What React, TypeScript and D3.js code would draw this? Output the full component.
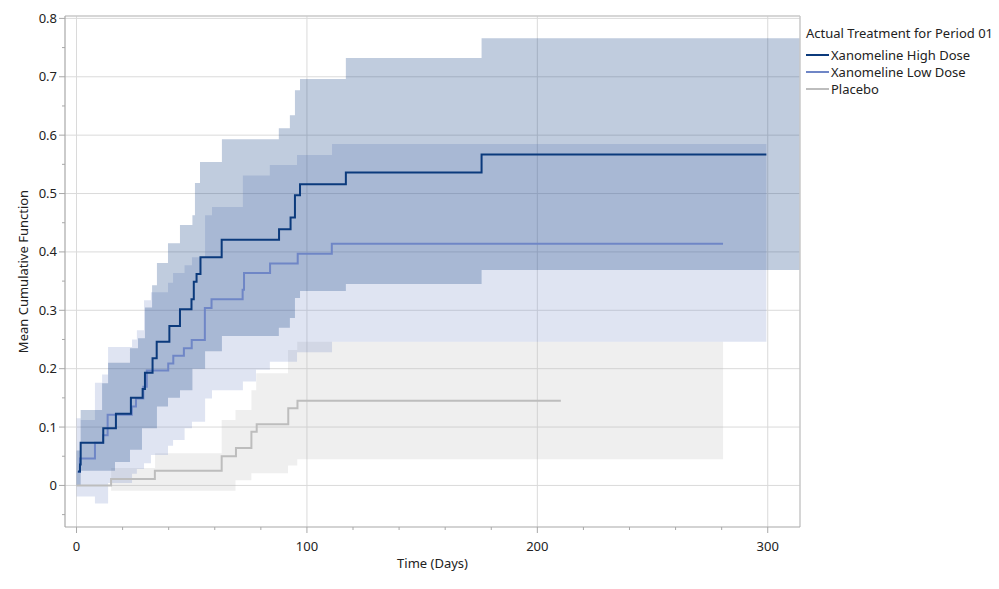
import React from "react";
import * as d3 from "d3";

// ---- data ----
const highDays = [0.65, 1.5, 1.8, 11.6, 17.1, 23.6, 28.7, 29.7, 33.0, 34.8, 40.3, 44.9, 49.9, 50.9, 52.1, 53.8, 63.0, 87.9, 92.9, 94.8, 97.0, 116.9, 175.8, 299.4];
const highMcf = [0.024, 0.036, 0.073, 0.098, 0.123, 0.150, 0.165, 0.193, 0.218, 0.246, 0.273, 0.302, 0.319, 0.349, 0.362, 0.391, 0.421, 0.439, 0.459, 0.497, 0.516, 0.536, 0.567, 0.567];

const lowDays = [0.5, 1.5, 8.0, 11.5, 13.5, 24.0, 25.8, 29.0, 30.5, 39.8, 42.0, 46.6, 50.0, 55.7, 58.6, 72.1, 72.7, 84.0, 96.0, 110.8, 280.6];
const lowMcf = [0.023, 0.046, 0.073, 0.086, 0.121, 0.135, 0.149, 0.169, 0.197, 0.209, 0.222, 0.235, 0.249, 0.304, 0.319, 0.335, 0.364, 0.380, 0.397, 0.414, 0.414];

const placeboDays = [0, 15.0, 34.0, 63.0, 69.2, 75.9, 78.2, 91.9, 95.9, 210.2];
const placeboMcf = [0, 0.011, 0.025, 0.05, 0.064, 0.092, 0.105, 0.132, 0.145, 0.145];

const highBandDays = [0.0, 1.8, 11.1, 13.7, 16.7, 23.2, 26.7, 28.4, 29.7, 32.8, 34.9, 39.7, 44.9, 50.3, 51.4, 53.6, 55.8, 63.1, 87.8, 92.6, 94.8, 97.0, 116.9, 175.8, 320];
const highUpper = [0.06, 0.129, 0.175, 0.21, 0.21, 0.235, 0.252, 0.252, 0.305, 0.343, 0.381, 0.415, 0.446, 0.463, 0.518, 0.554, 0.554, 0.593, 0.612, 0.634, 0.677, 0.696, 0.732, 0.766, 0.766];
const highLower = [0.0, 0.025, 0.025, 0.025, 0.04, 0.061, 0.061, 0.098, 0.098, 0.098, 0.135, 0.15, 0.163, 0.2, 0.2, 0.2, 0.23, 0.256, 0.27, 0.287, 0.321, 0.333, 0.345, 0.369, 0.369];

const lowBandDays = [0.0, 1.8, 8.0, 11.1, 13.7, 24.1, 26.2, 29.3, 32.3, 39.7, 41.9, 46.9, 50.1, 55.8, 58.8, 72.2, 77.9, 83.9, 95.7, 110.9, 299.4];
const lowUpper = [0.115, 0.112, 0.176, 0.19, 0.237, 0.25, 0.266, 0.317, 0.331, 0.347, 0.364, 0.377, 0.391, 0.463, 0.477, 0.531, 0.531, 0.549, 0.566, 0.585, 0.585];
const lowLower = [-0.019, -0.019, -0.031, -0.031, 0.004, 0.02, 0.028, 0.038, 0.052, 0.068, 0.078, 0.098, 0.109, 0.149, 0.163, 0.178, 0.198, 0.212, 0.228, 0.246, 0.246];

const placeboBandDays = [15.0, 34.1, 63.0, 69.0, 75.9, 78.0, 91.8, 95.8, 280.6];
const placeboUpper = [0.03, 0.055, 0.112, 0.129, 0.163, 0.192, 0.232, 0.246, 0.246];
const placeboLower = [-0.009, -0.009, -0.009, 0.009, 0.021, 0.021, 0.034, 0.045, 0.045];

const seriesNames = ["Xanomeline High Dose", "Xanomeline Low Dose", "Placebo"];
const lineColors = ["#0b3a7c", "#6f86c6", "#bdbdbd"];
const bandColors = ["#04337a", "#6f86c6", "#b8b8b8"];
const bandOpacity = [0.25, 0.225, 0.22];

const xMajorTicks = [0, 100, 200, 300];
const xMinorTicks = [20, 40, 60, 80, 120, 140, 160, 180, 220, 240, 260, 280];
const yMajorTicks = [0, 0.1, 0.2, 0.3, 0.4, 0.5, 0.6, 0.7, 0.8];
const yMinorTicks = [-0.05, 0.05, 0.15, 0.25, 0.35, 0.45, 0.55, 0.65, 0.75];

const xTitle = "Time (Days)";
const yTitle = "Mean Cumulative Function";
const legendTitle = "Actual Treatment for Period 01";

const FONT = "'Noto Sans', 'Open Sans', sans-serif";

export default function App() {
  const W = 999, H = 589;
  const left = 65, right = 800, top = 16, bottom = 527;
  const x = d3.scaleLinear().domain([-5, 314]).range([left, right]);
  const y = d3.scaleLinear().domain([-0.0712, 0.8041]).range([bottom, top]);

  const line = d3.line<[number, number]>().x(d => x(d[0])).y(d => y(d[1])).curve(d3.curveStepAfter);
  const area = d3.area<[number, number, number]>()
    .x(d => x(d[0])).y0(d => y(d[1])).y1(d => y(d[2])).curve(d3.curveStepAfter);

  const bands = [
    { days: highBandDays, lo: highLower, hi: highUpper },
    { days: lowBandDays, lo: lowLower, hi: lowUpper },
    { days: placeboBandDays, lo: placeboLower, hi: placeboUpper },
  ];
  const lines = [
    { days: highDays, v: highMcf },
    { days: lowDays, v: lowMcf },
    { days: placeboDays, v: placeboMcf },
  ];
  const drawOrder = [2, 1, 0];
  const gridColor = "#dadada";
  const axisColor = "#a8a8a8";
  const fmt = (v: number) => (v === 0 ? "0" : d3.format(".1f")(v));

  return (
    <svg width={W} height={H} style={{ position: "absolute", left: 0, top: 0, background: "#fff" }} fontFamily={FONT}>
      <defs>
        <clipPath id="plotclip">
          <rect x={left} y={top} width={right - left} height={bottom - top} />
        </clipPath>
      </defs>
      <rect x={0} y={0} width={W} height={H} fill="#fff" />
      {/* gridlines */}
      {yMajorTicks.map(t => (
        <line key={"gy" + t} x1={left} x2={right} y1={y(t)} y2={y(t)} stroke={gridColor} strokeWidth={1} />
      ))}
      {xMajorTicks.map(t => (
        <line key={"gx" + t} x1={x(t)} x2={x(t)} y1={top} y2={bottom} stroke={gridColor} strokeWidth={1} />
      ))}
      <g clipPath="url(#plotclip)">
        {drawOrder.map(i => {
          const b = bands[i];
          const pts = b.days.map((d, k) => [d, b.lo[k], b.hi[k]] as [number, number, number]);
          return <path key={"band" + i} d={area(pts) || ""} fill={bandColors[i]} fillOpacity={bandOpacity[i]} stroke="none" />;
        })}
        {drawOrder.map(i => {
          const l = lines[i];
          const pts = l.days.map((d, k) => [d, l.v[k]] as [number, number]);
          return <path key={"line" + i} d={line(pts) || ""} fill="none" stroke={lineColors[i]} strokeWidth={2} />;
        })}
      </g>
      {/* frame */}
      <line x1={left} x2={right} y1={top} y2={top} stroke="#c8c8c8" strokeWidth={1.5} />
      <line x1={right} x2={right} y1={top} y2={bottom} stroke="#c8c8c8" strokeWidth={1.5} />
      <line x1={left} x2={left} y1={top} y2={bottom} stroke={axisColor} strokeWidth={1.2} />
      <line x1={left} x2={right} y1={bottom} y2={bottom} stroke={axisColor} strokeWidth={1.2} />
      {/* y ticks */}
      {yMajorTicks.map(t => (
        <g key={"yt" + t}>
          <line x1={left - 6} x2={left} y1={y(t)} y2={y(t)} stroke={axisColor} />
          <text x={left - 8} y={y(t)} dy="0.35em" textAnchor="end" fontSize={13} fill="#222">{fmt(t)}</text>
        </g>
      ))}
      {yMinorTicks.map(t => (
        <line key={"ym" + t} x1={left - 3} x2={left} y1={y(t)} y2={y(t)} stroke={axisColor} />
      ))}
      {/* x ticks */}
      {xMajorTicks.map(t => (
        <g key={"xt" + t}>
          <line x1={x(t)} x2={x(t)} y1={bottom} y2={bottom + 6} stroke={axisColor} />
          <text x={x(t)} y={bottom + 19} dy="0.35em" textAnchor="middle" fontSize={13} fill="#222">{t}</text>
        </g>
      ))}
      {xMinorTicks.map(t => (
        <line key={"xm" + t} x1={x(t)} x2={x(t)} y1={bottom} y2={bottom + 3} stroke={axisColor} />
      ))}
      {/* titles */}
      <text x={(left + right) / 2} y={563} dy="0.35em" textAnchor="middle" fontSize={13} fill="#222">{xTitle}</text>
      <text transform={`translate(23,${(top + bottom) / 2}) rotate(-90)`} dy="0.35em" textAnchor="middle" fontSize={13} fill="#222">{yTitle}</text>
      {/* legend */}
      <text x={806} y={33} dy="0.35em" fontSize={13} fill="#222">{legendTitle}</text>
      {seriesNames.map((n, i) => (
        <g key={"lg" + i}>
          <line x1={806} x2={829} y1={55 + i * 17} y2={55 + i * 17} stroke={lineColors[i]} strokeWidth={2} />
          <text x={831} y={55 + i * 17} dy="0.35em" fontSize={13} fill="#222">{n}</text>
        </g>
      ))}
    </svg>
  );
}
